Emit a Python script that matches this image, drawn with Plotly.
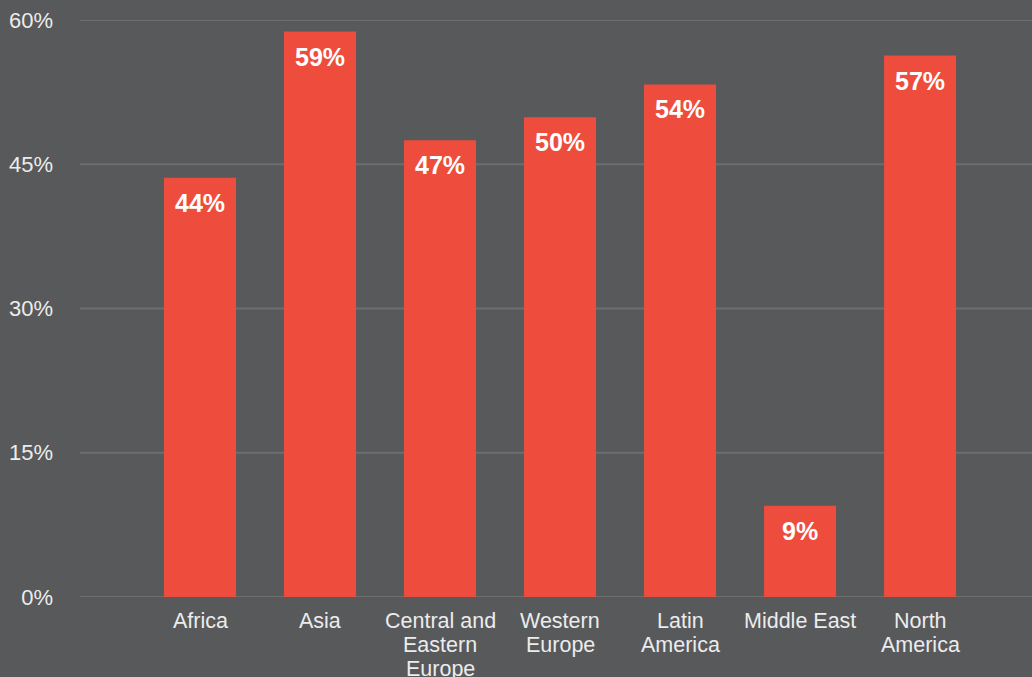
import plotly.graph_objects as go

categories = ["Africa", "Asia", "Central and<br>Eastern<br>Europe", "Western<br>Europe",
              "Latin<br>America", "Middle East", "North<br>America"]
values = [43.6, 58.8, 47.5, 49.9, 53.3, 9.5, 56.3]
labels = ["44%", "59%", "47%", "50%", "54%", "9%", "57%"]
y_ticks = [0, 15, 30, 45, 60]
y_tick_text = ["0%", "15%", "30%", "45%", "60%"]

BG = "#58595b"
BAR = "#ee4c3c"
GRID = "#6d6e70"
TXT = "#ececec"
FONT = "Liberation Sans, Arial, Helvetica, sans-serif"
LINE_H = 24

x_idx = list(range(len(categories)))

fig = go.Figure(go.Bar(
    x=x_idx, y=values, marker=dict(color=BAR, line=dict(width=0)),
    width=0.6, hoverinfo="skip",
))

for yv in y_ticks:
    fig.add_shape(type="line", xref="paper", x0=0, x1=1, yref="y", y0=yv, y1=yv,
                  line=dict(color=GRID, width=2), layer="below")

for i, (v, t) in enumerate(zip(values, labels)):
    fig.add_annotation(x=i, y=v, text=f"<b>{t}</b>", showarrow=False,
                       yanchor="top", yshift=-9,
                       font=dict(family=FONT, size=25, color="white"))

# category labels, one annotation per text line for tighter line spacing
for i, cat in enumerate(categories):
    for k, line in enumerate(cat.split("<br>")):
        fig.add_annotation(x=i, y=0, text=line, showarrow=False,
                           yanchor="middle", yshift=-(24 + LINE_H * k),
                           font=dict(family=FONT, size=21.5, color=TXT))

fig.update_layout(
    width=1032, height=677,
    paper_bgcolor=BG, plot_bgcolor=BG,
    margin=dict(l=80, r=0, t=20, b=80),
    showlegend=False,
    font=dict(family=FONT, size=21.5, color=TXT),
    xaxis=dict(range=[-1, 6.933], tickmode="array", tickvals=x_idx,
               showticklabels=False,
               showgrid=False, zeroline=False, showline=False, ticks="",
               automargin=False),
    yaxis=dict(range=[0, 60], tickmode="array", tickvals=y_ticks, ticktext=y_tick_text,
               showgrid=False, zeroline=False, showline=False,
               ticks="", ticklabelstandoff=26, automargin=False,
               tickfont=dict(size=22, color=TXT)),
)

fig.write_html("out.html", post_script="document.body.style.margin='0';",
               config={"displayModeBar": False})
